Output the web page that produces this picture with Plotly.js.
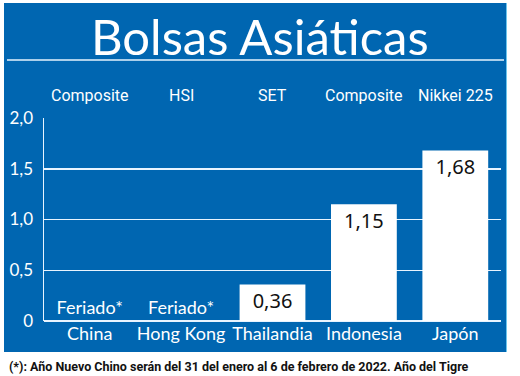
<!DOCTYPE html>
<html>
<head>
<meta charset="utf-8">
<script src="https://cdn.plot.ly/plotly-3.0.1.min.js"></script>
<style>html,body{margin:0;padding:0;background:#fff;}#chart{width:520px;height:376px;}</style>
</head>
<body>
<div id="chart"></div>
<script>
var categories = ['China', 'Hong Kong', 'Thailandia', 'Indonesia', 'Japón'];
var indices = ['Composite', 'HSI', 'SET', 'Composite', 'Nikkei 225'];
var values = [0, 0, 0.36, 1.15, 1.68];
var notes = ['Feriado*', 'Feriado*', '', '', ''];
var yTickVals = [0, 0.5, 1.0, 1.5, 2.0];
var yTickText = ['0', '0,5', '1,0', '1,5', '2,0'];
var titleText = 'Bolsas Asiáticas';
var footnote = '(*): Año Nuevo Chino serán del 31 del enero al 6 de febrero de 2022. Año del Tigre';

var BLUE = '#0066b1';
var W = 520, H = 376;
var M = {l: 44, r: 19, t: 118, b: 55};
var pw = W - M.l - M.r, ph = H - M.t - M.b;
function px2x(px) { return (px - M.l) / pw; }
function py2y(py) { return (H - M.b - py) / ph; }

var texts = values.map(function (v, i) {
  return notes[i] ? notes[i] : v.toFixed(2).replace('.', ',');
});
var textpos = notes.map(function (n) { return n ? 'outside' : 'inside'; });
var textcol = notes.map(function (n) { return n ? '#ffffff' : '#111111'; });
var textfam = notes.map(function (n) { return n ? 'Lato, sans-serif' : 'Noto Sans, sans-serif'; });
var textsz = notes.map(function (n) { return n ? 18 : 20; });

var trace = {
  type: 'bar',
  x: categories,
  y: values,
  marker: {color: '#ffffff', line: {width: 0}},
  text: texts,
  textposition: textpos,
  insidetextanchor: 'end',
  textangle: 0,
  constraintext: 'none',
  cliponaxis: false,
  textfont: {color: textcol, family: textfam, size: textsz},
  hoverinfo: 'none'
};

var annotations = [
  {text: titleText, xref: 'paper', yref: 'paper', x: px2x(260), y: py2y(36), xanchor: 'center', yanchor: 'middle',
   showarrow: false, font: {family: 'Lato, sans-serif', size: 49, color: '#ffffff'}},
  {text: footnote, xref: 'paper', yref: 'paper', x: px2x(7), y: py2y(366), xanchor: 'left', yanchor: 'middle',
   showarrow: false, font: {family: 'Roboto, sans-serif', size: 12.5, color: '#111111', weight: 'bold'}}
];
indices.forEach(function (s, i) {
  annotations.push({text: s, xref: 'x', yref: 'paper', x: categories[i], y: py2y(95), xanchor: 'center', yanchor: 'middle',
    showarrow: false, font: {family: 'Roboto, sans-serif', size: 16, color: '#ffffff'}});
});

var shapes = [
  {type: 'rect', xref: 'paper', yref: 'paper', x0: px2x(4), x1: px2x(506), y0: py2y(352), y1: py2y(3),
   fillcolor: BLUE, line: {width: 0}, layer: 'below'},
  {type: 'line', xref: 'paper', yref: 'paper', x0: px2x(506.5), x1: px2x(506.5), y0: py2y(352), y1: py2y(3),
   line: {color: '#6cc6ee', width: 1}, layer: 'below'},
  {type: 'line', xref: 'paper', yref: 'paper', x0: px2x(7), x1: px2x(504), y0: py2y(60), y1: py2y(60),
   line: {color: '#e6f4ff', width: 1.5}, layer: 'below'}
];

var layout = {
  width: W, height: H,
  margin: M,
  paper_bgcolor: '#ffffff',
  plot_bgcolor: 'rgba(0,0,0,0)',
  showlegend: false,
  bargap: 0.28,
  xaxis: {
    type: 'category',
    showgrid: false,
    showline: false,
    zeroline: false,
    ticks: '',
    tickfont: {family: 'Lato, sans-serif', size: 18, color: '#ffffff'},
    fixedrange: true
  },
  yaxis: {
    range: [0, 2],
    tickvals: yTickVals,
    ticktext: yTickText,
    showgrid: true,
    gridcolor: '#e8f4ff',
    gridwidth: 1.5,
    zeroline: true,
    zerolinecolor: '#e8f4ff',
    zerolinewidth: 1.5,
    showline: true,
    linecolor: '#e8f4ff',
    linewidth: 1.5,
    ticks: '',
    ticklabelstandoff: 6,
    tickfont: {family: 'Lato, sans-serif', size: 17, color: '#ffffff'},
    fixedrange: true
  },
  annotations: annotations,
  shapes: shapes
};

Plotly.newPlot('chart', [trace], layout, {displayModeBar: false, staticPlot: true});
</script>
</body>
</html>
